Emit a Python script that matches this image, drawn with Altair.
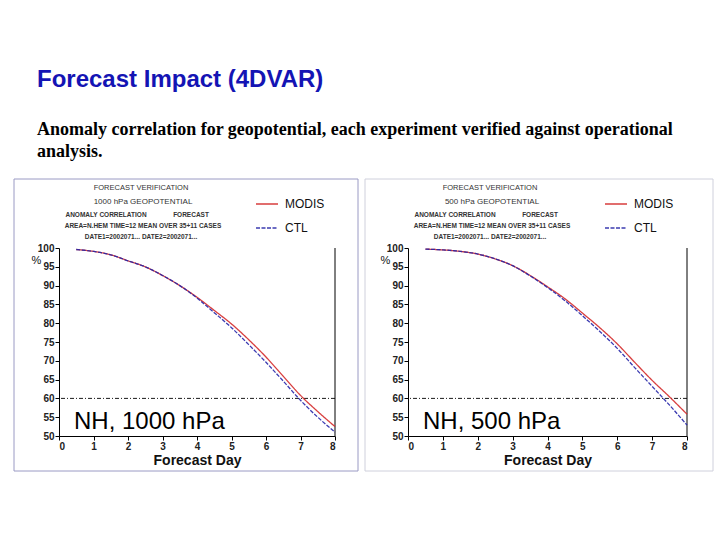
import altair as alt
import pandas as pd

# ---------------- data ----------------
days = [0.5, 1, 1.5, 2, 2.5, 3, 3.5, 4, 4.5, 5, 5.5, 6, 6.5, 7, 7.5, 8]

modis_1000 = [99.6, 99.1, 98.2, 96.6, 95.0, 92.7, 90.0, 86.9, 83.4, 79.8, 75.6, 71.0, 65.9, 60.8, 56.5, 52.5]
ctl_1000 = [99.6, 99.1, 98.2, 96.6, 95.0, 92.7, 90.0, 86.7, 82.8, 78.8, 74.3, 69.6, 64.6, 59.5, 55.0, 51.0]

modis_500 = [99.7, 99.5, 99.1, 98.4, 97.1, 95.3, 92.7, 89.7, 86.5, 82.7, 78.8, 74.5, 69.6, 64.8, 60.4, 55.8]
ctl_500 = [99.7, 99.5, 99.1, 98.4, 97.1, 95.3, 92.6, 89.5, 86.0, 82.0, 77.8, 73.3, 68.2, 63.2, 58.2, 52.9]

series_names = ["MODIS", "CTL"]
series_colors = ["#d42a2a", "#2626a8"]
x_ticks = [0, 1, 2, 3, 4, 5, 6, 7, 8]
y_ticks = [50, 55, 60, 65, 70, 75, 80, 85, 90, 95, 100]
threshold = [60]
x_end = [8]

title_text = "Forecast Impact (4DVAR)"
subtitle_lines = [
    "Anomaly correlation for geopotential, each experiment verified against operational",
    "analysis.",
]
panel_labels = ["NH, 1000 hPa", "NH, 500 hPa"]
header_common = "FORECAST VERIFICATION"
header_levels = ["1000 hPa GEOPOTENTIAL", "500 hPa GEOPOTENTIAL"]
header_area = ["AREA=N.HEM   TIME=12   MEAN OVER 35+11 CASES", "AREA=N.HEM   TIME=12   MEAN OVER 35+11 CASES"]
header_dates = ["DATE1=2002071...   DATE2=2002071...", "DATE1=2002071...   DATE2=2002071..."]


def make_df(modis, ctl):
    return pd.DataFrame({
        "day": days * 2,
        "value": modis + ctl,
        "series": ["MODIS"] * len(days) + ["CTL"] * len(days),
    })


def text_layer(s, x, y, size, weight="normal", align="center", color="#333333", baseline="middle"):
    return alt.Chart(pd.DataFrame({"t": [s]})).mark_text(
        font="Liberation Sans", fontSize=size, fontWeight=weight, align=align,
        baseline=baseline, color=color
    ).encode(text="t:N", x=alt.value(x), y=alt.value(y))


def panel(df, idx, width, rect_left, rect_right, rect_color):
    height = 188
    legend = alt.Legend(
        orient="none", legendX=196, legendY=-56, title=None, symbolType="stroke",
        symbolSize=484, symbolStrokeWidth=1.3, labelFont="Liberation Sans",
        labelFontSize=12, labelColor="#111111", rowPadding=6, padding=0,
        labelOffset=6, direction="vertical",
    )
    x = alt.X("day:Q", scale=alt.Scale(domain=[0, 8], nice=False, zero=False),
              axis=alt.Axis(values=x_ticks, title="Forecast Day", format="d",
                            titleFontSize=14, titlePadding=2, labelOverlap=False))
    y = alt.Y("value:Q", scale=alt.Scale(domain=[50, 100], nice=False, zero=False),
              axis=alt.Axis(values=y_ticks, title="%", titleAngle=0, titleX=-23,
                            titleY=12, titleFontSize=11, titleFontWeight="normal",
                            titleAlign="center", titleBaseline="middle", labelOverlap=False))
    lines = alt.Chart(df).mark_line(interpolate="monotone", strokeWidth=1.3, opacity=0.9).encode(
        x=x, y=y,
        color=alt.Color("series:N", scale=alt.Scale(domain=series_names, range=series_colors),
                        legend=legend, sort=series_names),
        strokeDash=alt.StrokeDash("series:N", scale=alt.Scale(domain=series_names, range=[[1, 0], [4, 1.5]]),
                                  legend=legend, sort=series_names),
    )
    frame = alt.Chart(pd.DataFrame({"a": [0]})).mark_rect(
        filled=False, stroke=rect_color, strokeWidth=1
    ).encode(x=alt.value(rect_left), x2=alt.value(rect_right), y=alt.value(-69), y2=alt.value(height + 35))
    rule60 = alt.Chart(pd.DataFrame({"value": threshold})).mark_rule(
        color="black", strokeWidth=0.9, strokeDash=[4, 2, 1, 2]
    ).encode(y=y)
    right_edge = alt.Chart(pd.DataFrame({"day": x_end})).mark_rule(color="black", strokeWidth=1).encode(x=x)
    cx = 82
    headers = [
        text_layer(header_common, cx, -60, 7.5),
        text_layer(header_levels[idx], cx + 2, -46, 8),
        text_layer("ANOMALY CORRELATION", 47, -33, 6.5, "bold"),
        text_layer("FORECAST", 132, -33, 6.5, "bold"),
        text_layer(header_area[idx], cx + 2, -22, 6.5, "bold"),
        text_layer(header_dates[idx], cx, -11, 6.5, "bold"),
    ]
    label = text_layer(panel_labels[idx], 15, 181, 24, align="left", color="#000000", baseline="alphabetic")
    return alt.layer(frame, *headers, rule60, right_edge, lines, label).properties(width=width, height=height)


left = panel(make_df(modis_1000, ctl_1000), 0, 276, -45, 299, "#9a9ac4")
right = panel(make_df(modis_500, ctl_500), 1, 279, -43, 305, "#cfd0dc")

chart = alt.hconcat(left, right, spacing=5).resolve_scale(
    color="independent", strokeDash="independent"
).properties(
    title=alt.TitleParams(
        text=title_text, subtitle=subtitle_lines, anchor="start", frame="group", dx=-22,
        font="Liberation Sans", fontSize=24, fontWeight="bold", color="#1414b4",
        subtitleFont="Liberation Serif", subtitleFontSize=18, subtitleFontWeight="bold",
        subtitleColor="#000000", subtitlePadding=29, subtitleLineHeight=22, offset=18,
    ),
    padding={"left": 13, "top": 67, "right": 5, "bottom": 5},
    background="white",
).configure_view(stroke=None).configure_axis(
    labelFont="Liberation Sans", labelFontWeight="bold", labelFontSize=10, labelColor="#222222",
    titleFont="Liberation Sans", titleFontWeight="bold", titleColor="#111111",
    domainColor="#000000", tickColor="#000000", tickSize=4, grid=False, labelPadding=1,
)

chart.save("out.html", embed_options={"renderer": "svg", "actions": False})
